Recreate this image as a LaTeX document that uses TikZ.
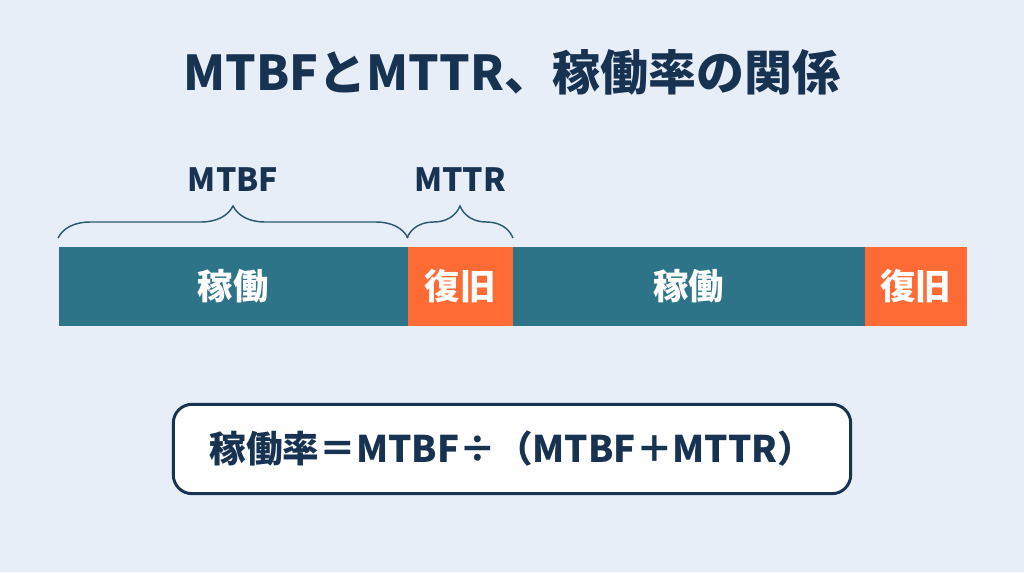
\documentclass[tikz,border=0pt]{standalone}
\usepackage{fontspec}
\setmainfont{Noto Sans CJK JP}
\usetikzlibrary{positioning,calc,decorations.pathreplacing}

\definecolor{bgblue}{RGB}{231,238,248}
\definecolor{navy}{RGB}{24,50,82}
\definecolor{runteal}{RGB}{46,116,137}
\definecolor{reporange}{RGB}{255,107,53}
\definecolor{bracecol}{RGB}{45,90,110}

\tikzset{every picture/.style={line width=0.75pt}}
\tikzset{
  seg/.style={anchor=north west,inner sep=0,minimum height=59.25pt,text=white,font=\bfseries\fontsize{26.5}{30}\selectfont},
  runseg/.style={seg,fill=runteal},
  repseg/.style={seg,fill=reporange},
  spanlabel/.style={text=navy,font=\bfseries\fontsize{24}{28}\selectfont},
  spanbrace/.style={draw=bracecol,line width=1.1pt,decorate,decoration={brace,amplitude=24pt}}
}

\begin{document}
\begin{tikzpicture}[x=0.75pt,y=0.75pt,yscale=-1,xscale=1]
%set diagram to 1024 x 572
\fill[bgblue] (0,0) rectangle (1024,572);

% Text Node
\node[text=navy,font=\bfseries\fontsize{36}{42}\selectfont] (title) at (512,72) {MTBFとMTTR、稼働率の関係};

%Shape: Bars
\node[runseg,minimum width=261.75pt] (run1) at (58,246) {稼働};
\node[repseg,minimum width=78.75pt] (rep1) at (407,246) {復旧};
\node[runseg,minimum width=264pt] (run2) at (512,246) {稼働};
\node[repseg,minimum width=76.5pt] (rep2) at (864,246) {復旧};

%Braces
\draw[spanbrace] ($(run1.north west)+(0,-8)$) -- ($(run1.north east)+(0,-8)$);
\draw[spanbrace] ($(rep1.north west)+(0,-8)$) -- ($(rep1.north east)+(0,-8)$);

% Text Node
\node[spanlabel] (mtbf) at ($(run1.north)+(0,-66)$) {MTBF};
\node[spanlabel] (mttr) at ($(rep1.north)+(0,-66)$) {MTTR};

%Shape: Formula box
\node[draw=navy,line width=2.2pt,fill=white,rounded corners=14pt,minimum width=508pt,minimum height=67pt,
      text=navy,font=\bfseries\fontsize{27.5}{32}\selectfont] (formula) at (512,449) {稼働率＝MTBF÷（MTBF＋MTTR）};

\end{tikzpicture}
\end{document}
